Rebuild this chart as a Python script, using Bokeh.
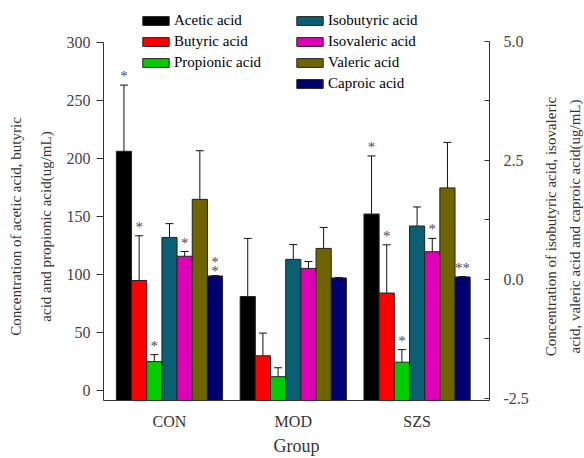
import numpy as np
from bokeh.plotting import figure
from bokeh.layouts import row, column
from bokeh.models import (Range1d, FixedTicker, Whisker, TeeHead, Spacer,
                          ColumnDataSource, Legend, LegendItem, PrintfTickFormatter,
                          LinearAxis)
from bokeh.core.properties import value
from bokeh.embed import file_html
from bokeh.resources import INLINE

# ---------------- data ----------------
groups = ["CON", "MOD", "SZS"]

# left axis series (ug/mL)
acetic_mean = [206, 81, 152]
acetic_sd = [57, 50, 50]
butyric_mean = [94.8, 30, 84]
butyric_sd = [38.5, 19.5, 41.5]
propionic_mean = [25, 12, 24.5]
propionic_sd = [6, 7.7, 10.8]

# right axis series (ug/mL)
isobutyric_mean = [0.88, 0.42, 1.12]
isobutyric_sd = [0.29, 0.31, 0.40]
isovaleric_mean = [0.485, 0.23, 0.58]
isovaleric_sd = [0.10, 0.145, 0.28]
valeric_mean = [1.68, 0.65, 1.92]
valeric_sd = [1.02, 0.44, 0.955]
caproic_mean = [0.07, 0.03, 0.05]
caproic_sd = [0.01, 0.01, 0.01]

# significance marks
sig_acetic = ["*", "", "*"]
sig_butyric = ["*", "", "*"]
sig_propionic = ["*", "", "*"]
sig_isobutyric = ["", "", ""]
sig_isovaleric = ["*", "", "*"]
sig_valeric = ["", "", ""]
sig_caproic = ["*\n*", "", "**"]

names = ["Acetic acid", "Butyric acid", "Propionic acid",
         "Isobutyric acid", "Isovaleric acid", "Valeric acid", "Caproic acid"]
colors = ["#000000", "#ff0000", "#00cc00", "#0a5f73", "#e000b8", "#6e6400", "#000070"]

left_title = ["Concentration of acetic acid, butyric", "acid and propionic acid(ug/mL)"]
right_title = ["Concentration of isobutyric acid, isovaleric",
               "acid, valeric acid and caproic acid(ug/mL)"]

LEFT_RANGE = (-8.5, 331.5)
RIGHT_RANGE = (-2.542, 5.748)
BAR_W = 0.1226
SERIF = "Liberation Serif"
TITLE_COLOR = "#333333"

# ---------------- main plot ----------------
p = figure(width=476, height=458, output_backend="svg", toolbar_location=None,
           x_range=Range1d(-0.533, 2.585), y_range=Range1d(*LEFT_RANGE),
           min_border_left=43, min_border_right=47, min_border_top=5,
           min_border_bottom=54)
p.extra_y_ranges = {"right": Range1d(*RIGHT_RANGE)}
p.outline_line_color = None
p.grid.visible = False

series = [
    (acetic_mean, acetic_sd, sig_acetic, "default"),
    (butyric_mean, butyric_sd, sig_butyric, "default"),
    (propionic_mean, propionic_sd, sig_propionic, "default"),
    (isobutyric_mean, isobutyric_sd, sig_isobutyric, "right"),
    (isovaleric_mean, isovaleric_sd, sig_isovaleric, "right"),
    (valeric_mean, valeric_sd, sig_valeric, "right"),
    (caproic_mean, caproic_sd, sig_caproic, "right"),
]

renderers = []
for i, (m, s, sig, rng) in enumerate(series):
    m = np.array(m, dtype=float)
    s = np.array(s, dtype=float)
    xs = np.arange(len(groups)) + (i - 3) * BAR_W
    base = LEFT_RANGE[0] if rng == "default" else RIGHT_RANGE[0]
    src = ColumnDataSource(dict(x=xs, top=m, bottom=[base] * len(xs),
                                upper=m + s, lower=m - s, sig=sig))
    r = p.vbar(x="x", top="top", bottom="bottom", width=BAR_W, source=src,
               fill_color=colors[i], line_color="#222222", line_width=1,
               y_range_name=rng)
    renderers.append(r)
    w = Whisker(source=src, base="x", upper="upper", lower="lower",
                y_range_name=rng, line_color="#111111", line_width=1,
                upper_head=TeeHead(size=8, line_color="#111111", line_width=1),
                lower_head=TeeHead(size=8, line_color="#111111", line_width=1))
    p.add_layout(w)
    p.text(x="x", y="upper", text="sig", source=src, y_range_name=rng,
           y_offset=-9, text_align="center", text_baseline="middle",
           text_font=value(SERIF), text_font_size="15px", text_color="#4a4a58",
           text_line_height=0.6)

xa = p.xaxis[0]
xa.ticker = FixedTicker(ticks=[0, 1, 2])
xa.major_label_overrides = {0: groups[0], 1: groups[1], 2: groups[2]}
xa.major_tick_line_color = None
xa.minor_tick_line_color = None
xa.major_tick_out = 0
xa.major_tick_in = 0
xa.axis_line_color = "#333333"
xa.major_label_standoff = 12
xa.major_label_text_font = SERIF
xa.major_label_text_font_size = "16px"
xa.major_label_text_color = "#333333"
xa.axis_label = "Group"
xa.axis_label_text_font = SERIF
xa.axis_label_text_font_size = "18px"
xa.axis_label_text_font_style = "normal"
xa.axis_label_text_color = "#333333"
xa.axis_label_standoff = 3

ya = p.yaxis[0]
ya.ticker = FixedTicker(ticks=[0, 50, 100, 150, 200, 250, 300])
ya.bounds = (LEFT_RANGE[0], 300)
ya.major_tick_out = 7
ya.major_tick_in = 0
ya.minor_tick_line_color = None
ya.axis_line_color = "#333333"
ya.major_tick_line_color = "#333333"
ya.major_label_standoff = 6
ya.major_label_text_font = SERIF
ya.major_label_text_font_size = "16px"
ya.major_label_text_color = "#444444"

ra = LinearAxis(y_range_name="right",
                ticker=FixedTicker(ticks=[-2.5, 0, 2.5, 5.0],
                                   minor_ticks=[-1.25, 1.25, 3.75]),
                formatter=PrintfTickFormatter(format="%.1f"),
                bounds=(RIGHT_RANGE[0], 5.0),
                major_tick_in=5, major_tick_out=0,
                minor_tick_in=5, minor_tick_out=0,
                axis_line_color="#333333", major_tick_line_color="#333333",
                minor_tick_line_color="#333333",
                major_label_standoff=14,
                major_label_text_font=SERIF, major_label_text_font_size="16px",
                major_label_text_color="#444444")
p.add_layout(ra, "right")

def make_legend(idx, loc):
    return Legend(items=[LegendItem(label=names[k], renderers=[renderers[k]]) for k in idx],
                  location=loc, orientation="vertical", glyph_width=33, glyph_height=11,
                  label_standoff=2, spacing=0, padding=0, margin=0,
                  border_line_color=None, background_fill_alpha=0,
                  label_text_font=SERIF, label_text_font_size="15px",
                  label_text_color="#000000", label_height=21)

p.add_layout(make_legend([0, 1, 2], (36, 327)))
p.add_layout(make_legend([3, 4, 5, 6], (190, 306)))

# ---------------- title strips (axis titles read bottom-to-top) ----------------
STRIP_TOP = 43

def title_strip(width, inner, outer, s_inner, s_outer):
    f = figure(width=width, height=458 - STRIP_TOP, output_backend="svg",
               toolbar_location=None,
               x_range=Range1d(0, 1), y_range=Range1d(0, 1),
               min_border_left=width - 2, min_border_right=0,
               min_border_top=5, min_border_bottom=54)
    f.outline_line_color = None
    f.grid.visible = False
    f.xaxis.visible = False
    a = f.yaxis[0]
    a.ticker = FixedTicker(ticks=[])
    a.axis_line_color = None
    a.major_tick_line_color = None
    a.minor_tick_line_color = None
    a.major_tick_out = 0
    a.major_label_standoff = 0
    a.axis_label = inner
    a.axis_label_standoff = s_inner
    a.axis_label_text_font = SERIF
    a.axis_label_text_font_size = "15px"
    a.axis_label_text_font_style = "normal"
    a.axis_label_text_color = TITLE_COLOR
    a2 = LinearAxis(ticker=FixedTicker(ticks=[]), axis_line_color=None,
                    major_tick_line_color=None, minor_tick_line_color=None,
                    major_tick_out=0, major_label_standoff=0,
                    axis_label=outer, axis_label_standoff=s_outer,
                    axis_label_text_font=SERIF, axis_label_text_font_size="15px",
                    axis_label_text_font_style="normal",
                    axis_label_text_color=TITLE_COLOR)
    f.add_layout(a2, "left")
    return column(Spacer(width=width, height=STRIP_TOP), f, spacing=0)

pl = title_strip(60, left_title[1], left_title[0], 5, 11)
pr = title_strip(48, right_title[1], right_title[0], 0, 5)

layout = row(pl, p, pr, spacing=0)
open("out.html", "w").write(file_html(layout, INLINE))
